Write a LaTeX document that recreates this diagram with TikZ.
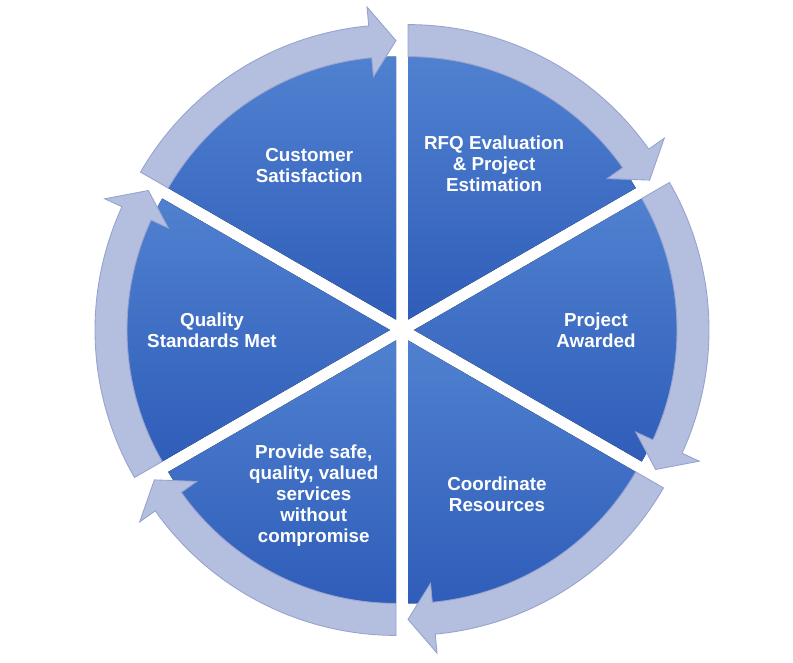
\documentclass[tikz,border=0pt]{standalone}
\usepackage{xcolor}
\usepackage{fontspec}
\setsansfont{Liberation Sans}
\usepackage{tikz}
\usetikzlibrary{positioning}
\definecolor{cyTop}{HTML}{5081D0}
\definecolor{cyBot}{HTML}{2F5DB9}
\definecolor{cyBand}{HTML}{B4BEDF}
\definecolor{cyEdge}{HTML}{97A3CF}

\begin{document}
\begin{tikzpicture}[x=0.02cm, y=0.02cm,
  wedge/.style={top color=cyTop, bottom color=cyBot, draw=none},
  band/.style={fill=cyBand, draw=cyEdge, line width=0.5pt, line join=miter},
  lab/.style={font=\sffamily\bfseries\fontsize{10.7}{11.95}\selectfont,
              text=white, align=center, inner sep=1pt}
]
  \useasboundingbox (-402,-332) rectangle (391,330);

  % pie wedges, each pushed 12 units out along its middle
  \fill[wedge,shift={(60:12)}] (0,0) -- (90:263) arc[start angle=90,end angle=30,radius=263] -- cycle;
  \fill[wedge,shift={(0:12)}] (0,0) -- (30:263) arc[start angle=30,end angle=-30,radius=263] -- cycle;
  \fill[wedge,shift={(-60:12)}] (0,0) -- (-30:263) arc[start angle=-30,end angle=-90,radius=263] -- cycle;
  \fill[wedge,shift={(-120:12)}] (0,0) -- (-90:263) arc[start angle=-90,end angle=-150,radius=263] -- cycle;
  \fill[wedge,shift={(180:12)}] (0,0) -- (210:263) arc[start angle=210,end angle=150,radius=263] -- cycle;
  \fill[wedge,shift={(120:12)}] (0,0) -- (150:263) arc[start angle=150,end angle=90,radius=263] -- cycle;

  % curved arrows round the rim
  \draw[band,shift={(60:12)}] (90:295) arc[start angle=90,end angle=35.3,radius=295] -- (35.3:314) -- (30:279) -- (35.3:244) -- (35.3:263) arc[start angle=35.3,end angle=90,radius=263] -- cycle;
  \draw[band,shift={(0:12)}] (30:295) arc[start angle=30,end angle=-24.7,radius=295] -- (-24.7:314) -- (-30:279) -- (-24.7:244) -- (-24.7:263) arc[start angle=-24.7,end angle=30,radius=263] -- cycle;
  \draw[band,shift={(-60:12)}] (-30:295) arc[start angle=-30,end angle=-84.7,radius=295] -- (-84.7:314) -- (-90:279) -- (-84.7:244) -- (-84.7:263) arc[start angle=-84.7,end angle=-30,radius=263] -- cycle;
  \draw[band,shift={(-120:12)}] (-90:295) arc[start angle=-90,end angle=-144.7,radius=295] -- (-144.7:314) -- (-150:279) -- (-144.7:244) -- (-144.7:263) arc[start angle=-144.7,end angle=-90,radius=263] -- cycle;
  \draw[band,shift={(180:12)}] (210:295) arc[start angle=210,end angle=155.3,radius=295] -- (155.3:314) -- (150:279) -- (155.3:244) -- (155.3:263) arc[start angle=155.3,end angle=210,radius=263] -- cycle;
  \draw[band,shift={(120:12)}] (150:295) arc[start angle=150,end angle=95.3,radius=295] -- (95.3:314) -- (90:279) -- (95.3:244) -- (95.3:263) arc[start angle=95.3,end angle=150,radius=263] -- cycle;

  \node[lab] (rfq) at (61:190) {RFQ Evaluation\\\& Project\\Estimation};
  \node[lab] (awarded) at (0:194) {Project\\Awarded};
  \node[lab] (coord) at (-60:190) {Coordinate\\Resources};
  \node[lab] (provide) at (-118:188) {Provide safe,\\quality, valued\\services\\without\\compromise};
  \node[lab] (quality) at (180:190) {Quality\\Standards Met};
  \node[lab] (satisf) at (119.4:189) {Customer\\Satisfaction};
\end{tikzpicture}
\end{document}
